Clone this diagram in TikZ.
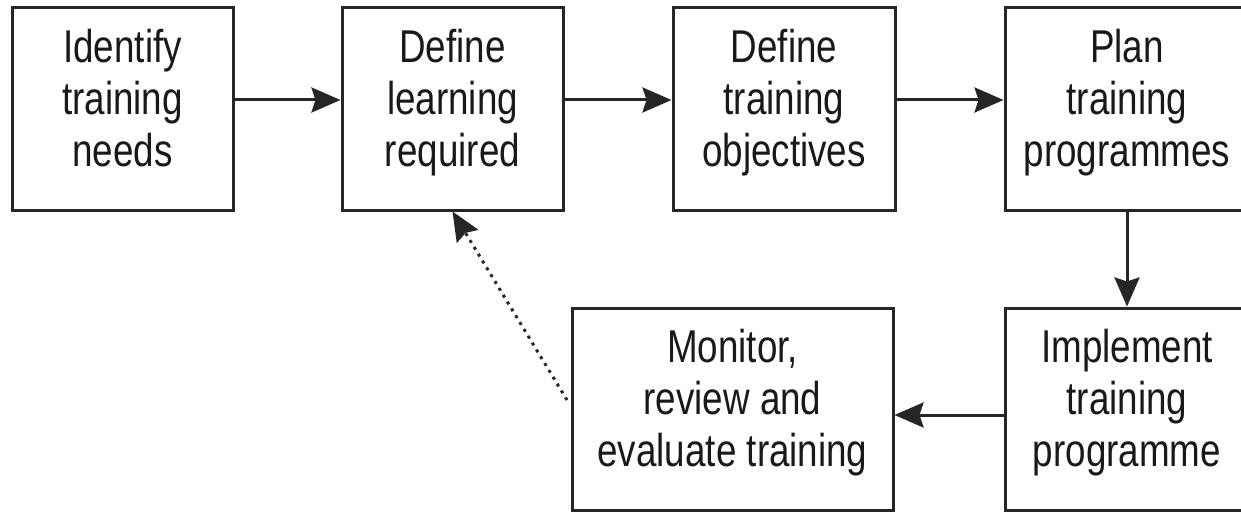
\documentclass[tikz,border=0pt]{standalone}
\usepackage{fontspec}
\setmainfont[FakeStretch=0.8]{Liberation Sans}
\usetikzlibrary{arrows.meta,calc}
\begin{document}
\begin{tikzpicture}[x=1pt,y=-1pt,
  box/.style={draw=black!85, line width=3pt, minimum height=202pt, inner sep=0pt},
  lbl/.style={align=center, font=\fontsize{46}{52}\selectfont, text=black!90, inner sep=0pt},
  flow/.style={line width=3pt, draw=black!85,
    -{Stealth[length=29pt,width=25pt,inset=4pt]}},
  back/.style={flow, dash pattern=on 3pt off 5pt}
]
\useasboundingbox (0,0) rectangle (1241,513);
\clip (0,0) rectangle (1241,513);

% process boxes
\node[box, minimum width=221pt] (b1) at (122.5,109) {};
\node[box, minimum width=221pt] (b2) at (452.5,109) {};
\node[box, minimum width=222pt] (b3) at (784,109) {};
\node[box, minimum width=244pt] (b4) at (1127,109) {};
\node[box, minimum width=321pt] (b5) at (732.5,409) {};
\node[box, minimum width=244pt] (b6) at (1127,409) {};

% box texts
\newcommand{\lines}[1]{\vphantom{Ag}#1\vphantom{g}}
\node[lbl] (t1) at ($(b1.center)+(0,-6)$) {\lines{Identify\\training\\needs}};
\node[lbl] (t2) at ($(b2.center)+(0,-6)$) {\lines{Define\\learning\\required}};
\node[lbl] (t3) at ($(b3.center)+(0,-6)$) {\lines{Define\\training\\objectives}};
\node[lbl] (t4) at ($(b4.center)+(0,-6)$) {\lines{Plan\\training\\programmes}};
\node[lbl] (t5) at ($(b5.center)+(0,-6)$) {\lines{Monitor,\\review and\\evaluate training}};
\node[lbl] (t6) at ($(b6.center)+(0,-6)$) {\lines{Implement\\training\\programme}};

% connectors
\draw[flow] ([yshift=9pt]b1.east) -- ([yshift=9pt]b2.west);
\draw[flow] ([yshift=9pt]b2.east) -- ([yshift=9pt]b3.west);
\draw[flow] ([yshift=9pt]b3.east) -- ([yshift=9pt]b4.west);
\draw[flow] (b4.south) -- (b6.north);
\draw[flow] ([yshift=-6pt]b6.west) -- ([yshift=-6pt]b5.east);
\coordinate (fb) at (567,400);
\draw[back] (fb) -- (b2.south);
\end{tikzpicture}
\end{document}
